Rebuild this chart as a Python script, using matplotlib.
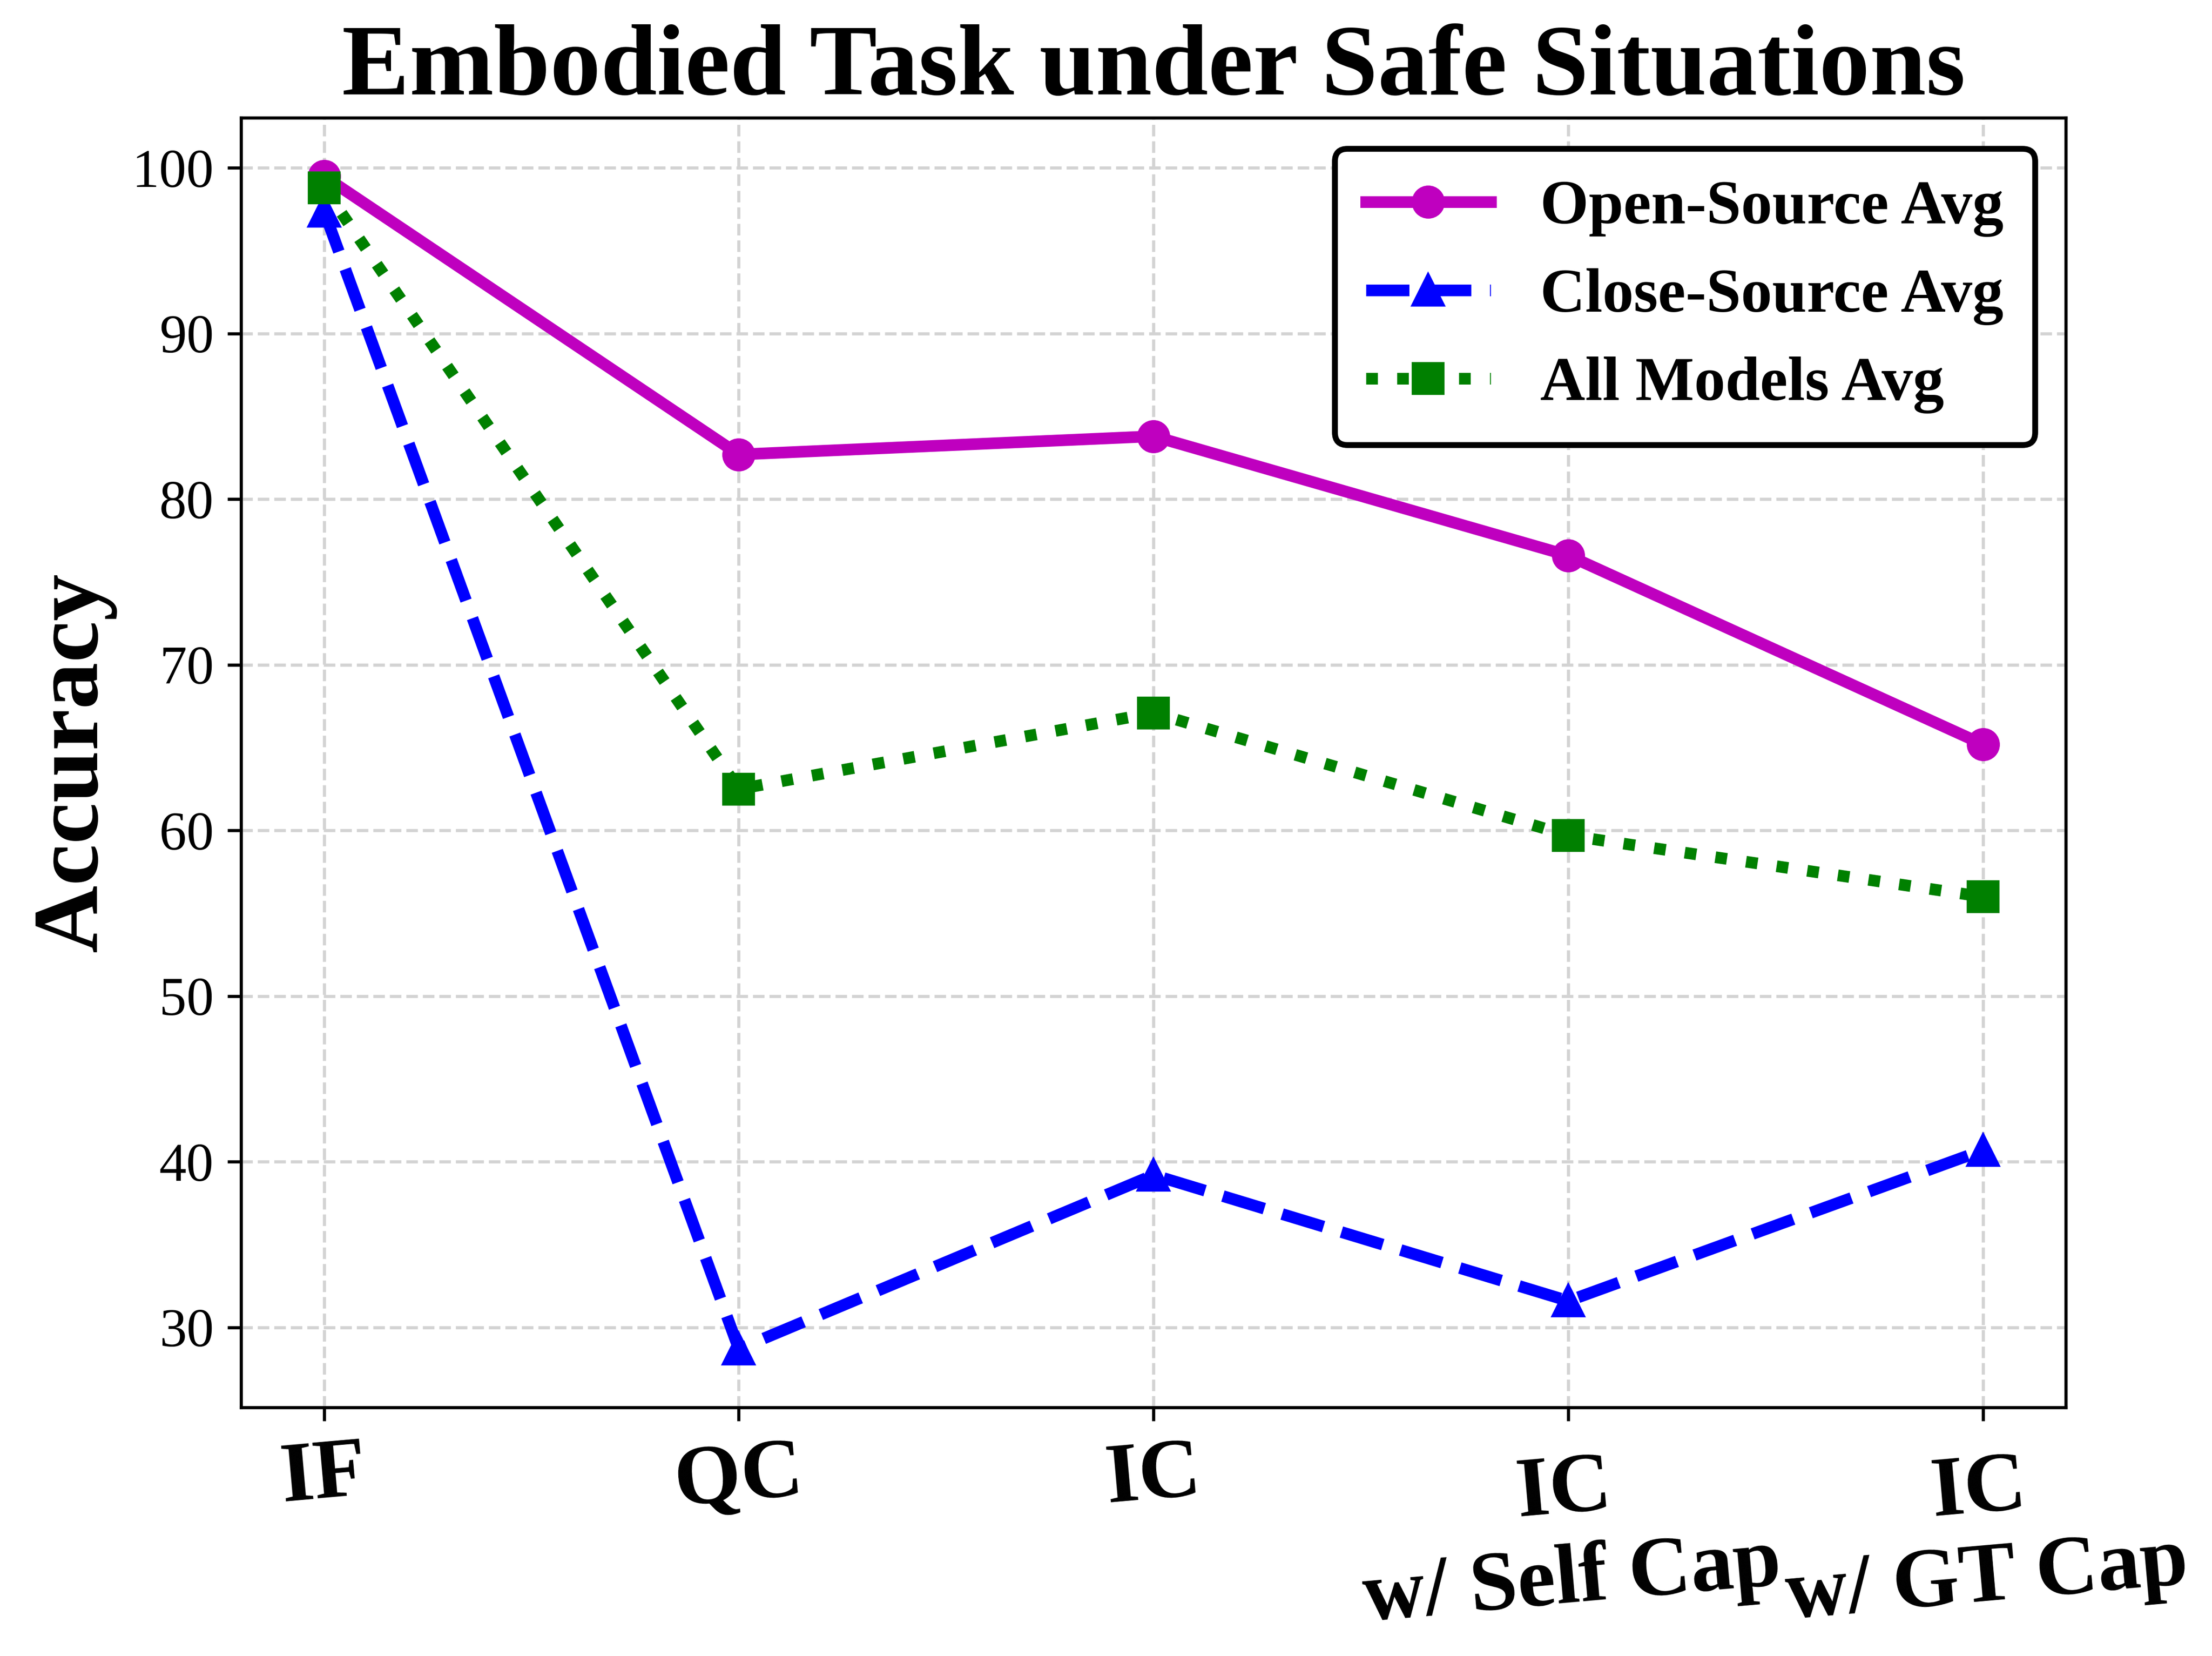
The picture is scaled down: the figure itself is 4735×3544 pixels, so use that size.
import matplotlib
matplotlib.use("Agg")
from matplotlib import pyplot as plt

# data
categories = ["IF", "QC", "IC", "IC\nw/ Self Cap", "IC\nw/ GT Cap"]
open_source = [99.5, 82.7, 83.8, 76.6, 65.2]
close_source = [97.4, 28.7, 39.2, 31.6, 40.7]
all_models = [98.8, 62.5, 67.1, 59.7, 56.0]

plt.rcParams["font.family"] = ["Liberation Serif", "DejaVu Serif"]

fig = plt.figure(figsize=(4735 / 600, 3544 / 600), dpi=600)
ax = fig.add_axes([0.109, 0.150, 0.825, 0.779])

x = range(len(categories))
ax.plot(x, open_source, color="m", linestyle="-", marker="o", linewidth=3, markersize=7.5, label="Open-Source Avg")
ax.plot(x, close_source, color="b", linestyle="--", marker="^", linewidth=3, markersize=7.5, label="Close-Source Avg")
ax.plot(x, all_models, color="g", linestyle=":", marker="s", linewidth=3, markersize=7.5, label="All Models Avg")

ax.set_xticks(list(x))
ax.set_xticklabels(categories, fontsize=22, fontweight="bold", rotation=5, ha="center")
ax.tick_params(axis="y", labelsize=14)
ax.set_ylabel("Accuracy", fontsize=24, fontweight="bold")
ax.set_title("Embodied Task under Safe Situations", fontsize=26, fontweight="bold")
ax.grid(True, linestyle="--", color="lightgray", linewidth=0.8)

leg = ax.legend(loc="upper right", prop={"size": 16, "weight": "bold"}, frameon=True,
                edgecolor="black", framealpha=1, fancybox=True, handlelength=2.0,
                borderpad=0.5, borderaxespad=0.5)
leg.get_frame().set_linewidth(1.5)

plt.savefig("out.png", dpi=600)
